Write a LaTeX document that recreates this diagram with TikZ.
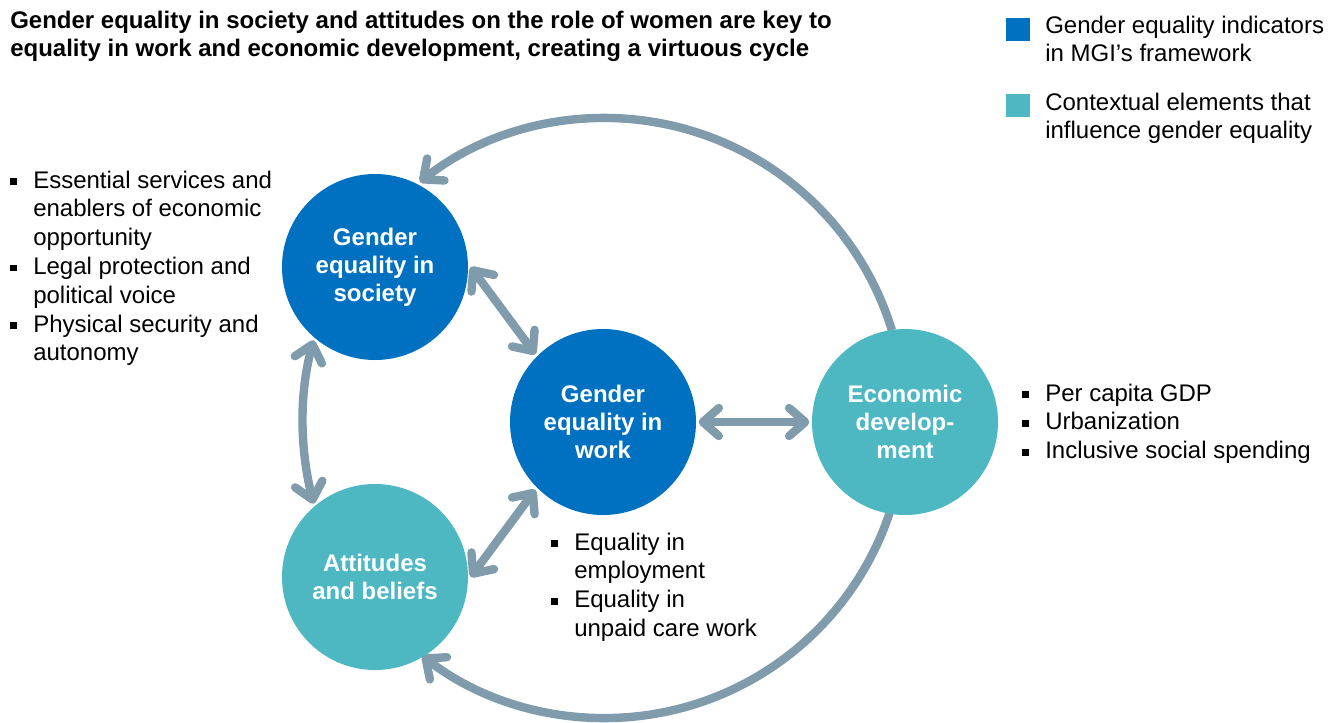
\documentclass[tikz,border=0pt]{standalone}
\usepackage{fontspec}
\setmainfont{Liberation Sans}
\usetikzlibrary{arrows.meta}
\pgfdeclarelayer{bg}
\pgfsetlayers{bg,main}
\definecolor{mgiblue}{HTML}{0070C0}
\definecolor{mgiteal}{HTML}{4DB8C2}
\definecolor{arrowgray}{HTML}{7F9BAC}
\newcommand{\bsq}{\rule[2.2pt]{5pt}{5pt}}
\newcommand{\bul}{\llap{\bsq\hspace{12.5pt}}}
\begin{document}
\begin{tikzpicture}[x=0.75pt,y=-0.75pt,
  bigcircle/.style={circle, minimum size=139.5pt, inner sep=0pt, outer sep=2pt,
    text=white, align=center, font=\fontsize{18}{21}\selectfont\bfseries},
  txt/.style={anchor=base west, inner sep=0pt, font=\fontsize{18}{21.6}\selectfont},
  legsq/.style={rectangle, minimum size=17.5pt, inner sep=0pt},
  conn/.style={draw=arrowgray, line width=6.3pt},
  >={Straight Barb[round,length=12pt,width=21pt]}]
\useasboundingbox (0,0) rectangle (1341,722);

% title
\node[txt, font=\fontsize{18}{21}\selectfont\bfseries] (title) at (10,28)
  {\begin{tabular}[t]{@{}l@{}}Gender equality in society and attitudes on the role of women are key to\\
   equality in work and economic development, creating a virtuous cycle\end{tabular}};

% legend
\node[legsq, fill=mgiblue] (leg1sq) at (1018,29.5) {};
\node[txt] (leg1) at (1045,33)
  {\begin{tabular}[t]{@{}l@{}}Gender equality indicators\\in MGI’s framework\end{tabular}};
\node[legsq, fill=mgiteal] (leg2sq) at (1018,105.5) {};
\node[txt] (leg2) at (1045,110)
  {\begin{tabular}[t]{@{}l@{}}Contextual elements that\\influence gender equality\end{tabular}};

% circles
\node[bigcircle, fill=mgiblue] (soc) at (375,267) {Gender\\equality in\\society};
\node[bigcircle, fill=mgiblue] (work) at (603,422) {Gender\\equality in\\work};
\node[bigcircle, fill=mgiteal] (econ) at (905,422) {Economic\\develop-\\ment};
\node[bigcircle, fill=mgiteal] (att) at (375,577) {Attitudes\\and beliefs};
\coordinate (arcc) at ([shift={(2,-4)}]work.center);

% bullet lists
\node[txt] (soclist) at (33,188)
  {\begin{tabular}[t]{@{}l@{}}\bul Essential services and\\enablers of economic\\opportunity\\
   \bul Legal protection and\\political voice\\\bul Physical security and\\autonomy\end{tabular}};
\node[txt] (worklist) at (574,550)
  {\begin{tabular}[t]{@{}l@{}}\bul Equality in\\employment\\\bul Equality in\\unpaid care work\end{tabular}};
\node[txt] (econlist) at (1045,401)
  {\begin{tabular}[t]{@{}l@{}}\bul Per capita GDP\\\bul Urbanization\\\bul Inclusive social spending\end{tabular}};

% connectors
\begin{pgfonlayer}{bg}
\fill[white] (0,0) rectangle (1341,722);
\draw[conn, <->] (soc.east) -- (work.135);
\draw[conn, <->] (att.east) -- (work.225);
\draw[conn, <->] (work.east) -- (econ.west);
\draw[conn, <->] (soc.230) .. controls (299,395) and (300,448) .. (att.130);
\draw[conn, ->] ([shift={(-17:300)}]arcc) arc[start angle=-17, end angle=-128.1, radius=300];
\draw[conn, ->] ([shift={(18:300)}]arcc) arc[start angle=18, end angle=127.5, radius=300];
\end{pgfonlayer}
\end{tikzpicture}
\end{document}
